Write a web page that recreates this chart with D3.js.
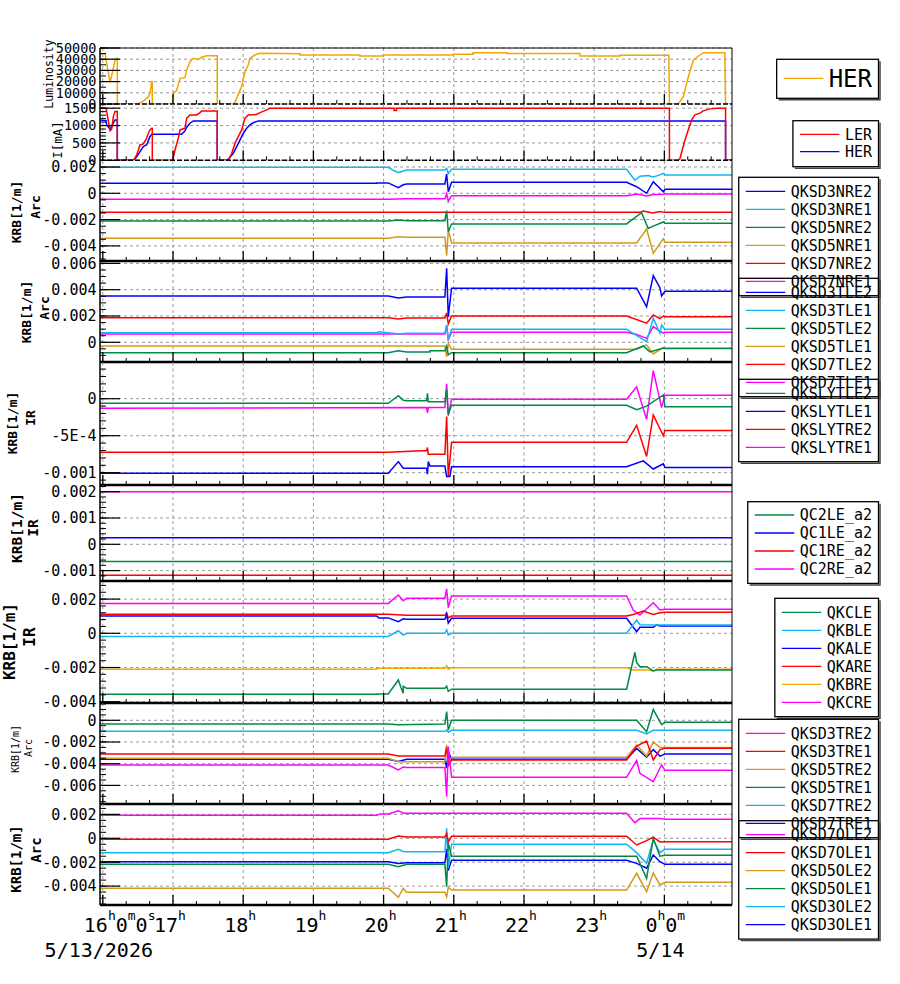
<!DOCTYPE html>
<html>
<head>
<meta charset="utf-8">
<script src="https://cdn.jsdelivr.net/npm/d3@7"></script>
<style>
  body { margin: 0; background: #fff; }
  text { font-family: "DejaVu Sans Mono", monospace; fill: #000; }
</style>
</head>
<body>
<div id="chart"></div>
<script>
// all times are minutes after 16:00 on 5/13/2026

// --- colours
const BLUE = "#0000ff", RED = "#ff0000", MAG = "#ff00ff", GRN = "#008a45",
      CYAN = "#12b6f0", GOLD = "#d29a1c", ORNG = "#f2a600";

// --- time axis
const hourLabels = ["16h0m0s", "17h", "18h", "19h", "20h", "21h", "22h", "23h", "0h0m"];
const dateLabels = [[0, "5/13/2026"], [480, "5/14"]];
const timeDomain = [-2.4, 537.8];

// --- luminosity
const lumHER = [[-2.4,44600],[2.0,45000],[3.3,36300],[6.2,19400],[8.4,28800],[10.4,38700],[11.9,40800],[12.4,40800],[12.4,0],
  [30.4,0],[34.6,2700],[38.9,6300],[40.3,9500],[41.8,19900],[42.3,19900],[42.3,0],
  [59.8,0],[60.3,9500],[63.1,12000],[66.0,22900],[70.3,23500],[71.7,30400],[74.5,37800],[77.4,40800],[81.6,39800],[84.5,41700],[88.8,43100],[97.8,43000],[97.8,0],
  [111.5,0],[113.0,1600],[115.8,8600],[118.6,15500],[121.5,28800],[124.3,34800],[125.7,40800],[130.0,43750],[134.3,45300],[168.5,44900],
  [168.5,43750],[219.8,43750],[219.8,42900],[239.6,42900],[239.6,43750],[299.4,43750],[299.4,44500],[316.5,44500],[316.5,45800],
  [345.5,45800],[345.5,45000],[407.9,45000],[407.9,42900],[442.1,42900],[442.1,43500],[483.8,43500],[484.3,0],
  [491.9,0],[496.2,6500],[500.5,24400],[504.8,39300],[510.4,43750],[513.3,45800],[531.7,45800],[532.3,0],[537.8,0]];
const lumTicks = [0, 10000, 20000, 30000, 40000, 50000];

// --- beam currents
const curLER = [[-2.4,1500],[2.8,1500],[6.2,854],[7.6,900],[9.0,1258],[10.4,1402],[12.4,1402],[12.4,0],
  [26.3,0],[29.0,153],[31.8,441],[34.6,470],[37.5,635],[38.9,779],[40.3,874],[41.8,923],[42.3,923],[42.3,0],
  [59.8,0],[61.7,297],[64.5,635],[66.0,874],[70.3,923],[71.7,1212],[74.5,1307],[80.3,1307],[83.1,1373],[84.5,1422],[97.8,1422],[97.8,0],
  [107.3,0],[110.2,200],[113.0,490],[115.8,683],[118.7,874],[121.5,1212],[124.4,1307],[131.5,1320],[134.4,1373],[140.1,1451],[142.9,1500],
  [249.0,1500],[249.0,1430],[251.0,1430],[251.0,1500],[484.3,1500],[484.3,0],
  [491.9,0],[493.3,50],[497.6,586],[500.4,874],[503.3,1163],[506.1,1307],[510.4,1356],[513.2,1422],[518.9,1480],[525.0,1500],[532.3,1500],[532.3,0],[537.8,0]];
const curHER = [[-2.4,1163],[2.8,1140],[3.3,1018],[6.2,894],[9.0,1067],[10.4,1163],[12.4,1163],[12.4,0],
  [26.3,0],[29.0,104],[31.8,248],[34.6,392],[37.5,450],[40.3,681],[41.8,750],[67.4,750],[70.3,850],[71.7,952],[74.5,1067],[77.4,1134],[97.8,1134],[97.8,0],
  [105.9,0],[107.3,30],[111.5,202],[114.4,392],[117.3,586],[120.1,779],[123.0,923],[125.8,1018],[128.6,1080],[132.9,1134],
  [532.3,1134],[532.3,0],[537.8,0]];
const curTicks = [0, 500, 1000, 1500];

// --- Arc, QKSD*NRE
const QKSD3NRE2 = [[-2.4,0.00076],[234,0.00076],[234,0.00079],[244,0.00079],[252.6,0.00043],[256.8,0.00065],[259.7,0.00071],[292.4,0.00071],[293.9,0.00147],[295.3,0.00012],[298.1,0.00084],[447.7,0.00084],[456.3,0.0005],[464.8,0.0],[470.5,0.00088],[474.8,0.0005],[479.1,0.00012],[480.5,0.0003],[537.8,0.0003]];
const QKSD3NRE1 = [[-2.4,0.00198],[244,0.00198],[248.3,0.00175],[252.6,0.00157],[256.8,0.0017],[259.7,0.00177],[292.4,0.00177],[293.9,0.0019],[295.3,0.0015],[298.1,0.00183],[447.7,0.00183],[454.8,0.001],[459.1,0.0013],[466.2,0.00135],[470.5,0.00125],[476.2,0.0014],[479.1,0.00152],[480.5,0.00139],[537.8,0.00139]];
const QKSD5NRE2 = [[-2.4,-0.00211],[244,-0.00211],[252.6,-0.00203],[259.7,-0.00208],[292.4,-0.00208],[293.9,-0.00132],[295.3,-0.00292],[298.1,-0.00233],[447.7,-0.00233],[460.5,-0.00148],[466.2,-0.00268],[470.5,-0.0025],[479.1,-0.00218],[480.5,-0.00228],[537.8,-0.00228]];
const QKSD5NRE1 = [[-2.4,-0.00342],[244,-0.00342],[252.6,-0.0033],[259.7,-0.00335],[292.4,-0.00335],[293.9,-0.00474],[295.3,-0.0028],[298.1,-0.00378],[456.3,-0.00378],[464.8,-0.00272],[470.5,-0.00456],[479.1,-0.00345],[480.5,-0.00373],[537.8,-0.00373]];
const QKSD7NRE2 = [[-2.4,-0.00145],[459,-0.00145],[462,-0.00135],[470,-0.0015],[476,-0.00138],[480.5,-0.00145],[537.8,-0.00145]];
const QKSD7NRE1 = [[-2.4,-0.00046],[244,-0.00046],[259.7,-0.00042],[292.4,-0.00042],[293.9,-0.00002],[295.3,-0.00062],[298.1,-0.00018],[447.7,-0.00018],[456.3,-0.00005],[464.8,-0.0002],[470.5,-0.0001],[479.1,-0.00008],[480.5,-0.00005],[537.8,-0.00005]];
const arc1Ticks = [-0.004, -0.002, 0, 0.002];

// --- Arc, QKSD*TLE
const QKSD3TLE2 = [[-2.4,0.00352],[244,0.00352],[252.6,0.00337],[259.7,0.00345],[292.4,0.00345],[293.9,0.00563],[295.3,0.00195],[298.1,0.00411],[456.3,0.00411],[464.8,0.0027],[470.5,0.00507],[476.2,0.00415],[477.6,0.00352],[480.5,0.00388],[537.8,0.00388]];
const QKSD3TLE1 = [[-2.4,0.00073],[234,0.00073],[236,0.0008],[244,0.00073],[252.6,0.00063],[259.7,0.00068],[292.4,0.00068],[293.9,0.0012],[295.3,0.0002],[298.1,0.00099],[447.7,0.00099],[464.8,0.00005],[470.5,0.00183],[476.2,0.00068],[477.6,0.0013],[480.5,0.00099],[537.8,0.00099]];
const QKSD5TLE2 = [[-2.4,-0.00079],[244,-0.00079],[252.6,-0.00065],[259.7,-0.00073],[279.6,-0.00073],[279.6,-0.00065],[292.4,-0.00065],[293.9,-0.0003],[295.3,-0.00095],[298.1,-0.00079],[447.7,-0.00079],[462,-0.00028],[467.7,-0.00073],[479.1,-0.00043],[480.5,-0.00048],[537.8,-0.00048]];
const QKSD5TLE1 = [[-2.4,-0.00028],[292.4,-0.00028],[293.9,-0.0011],[295.3,-0.0001],[298.1,-0.00053],[456.3,-0.00053],[464.8,-0.0002],[470.5,-0.00089],[479.1,-0.0004],[480.5,-0.00046],[537.8,-0.00046]];
const QKSD7TLE2 = [[-2.4,0.00187],[244,0.00187],[252.6,0.00178],[259.7,0.00185],[292.4,0.00185],[293.9,0.00223],[295.3,0.0014],[298.1,0.002],[447.7,0.002],[464.8,0.00145],[470.5,0.00208],[476.2,0.0018],[479.1,0.002],[480.5,0.00195],[537.8,0.00195]];
const QKSD7TLE1 = [[-2.4,0.00063],[292.4,0.00063],[293.9,0.0013],[295.3,0.0002],[298.1,0.00076],[447.7,0.00076],[456.3,0.0006],[464.8,0.0003],[470.5,0.00119],[476.2,0.00085],[479.1,0.0007],[480.5,0.00076],[537.8,0.00076]];
const arc2Ticks = [0, 0.002, 0.004, 0.006];

// --- IR, QKSLY*
const QKSLYTLE2 = [[-2.4,-0.000062],[244,-0.000062],[252.6,0.00004],[256.8,-0.00002],[259.7,-0.000027],[276.8,-0.000027],[277.5,0.000073],[278.2,-0.00004],[292.4,-0.00004],[293.9,0.00012],[295.3,-0.00021],[298.1,-0.000089],[447.7,-0.000089],[456.3,-0.00015],[464.8,-0.0001],[479.1,0.00005],[480.5,-0.000108],[537.8,-0.000108]];
const QKSLYTLE1 = [[-2.4,-0.001008],[244,-0.001008],[252.6,-0.00085],[256.8,-0.00094],[276.8,-0.00094],[277.5,-0.00102],[278.2,-0.00085],[279.6,-0.00091],[292.4,-0.00091],[293.9,-0.00105],[296.7,-0.00105],[298.1,-0.00092],[447.7,-0.00092],[462,-0.00084],[470.5,-0.00095],[479.1,-0.00088],[480.5,-0.00093],[537.8,-0.00093]];
const QKSLYTRE2 = [[-2.4,-0.000724],[244,-0.000724],[276.8,-0.0007],[277.5,-0.00066],[278.2,-0.00075],[292.4,-0.00075],[293.9,-0.00024],[295.3,-0.00105],[298.1,-0.00059],[447.7,-0.00059],[456.3,-0.00036],[464.8,-0.00078],[470.5,-0.00022],[479.1,-0.0005],[480.5,-0.00043],[537.8,-0.00043]];
const QKSLYTRE1 = [[-2.4,-0.00013],[276.8,-0.00012],[277.5,-0.00019],[278.2,-0.00012],[292.4,-0.00012],[293.9,0.0002],[295.3,-0.00023],[298.1,-0.000008],[447.7,-0.000008],[456.3,0.00016],[464.8,-0.00028],[470.5,0.00038],[477.6,-0.00012],[480.5,0.000046],[537.8,0.000046]];
const ir1Ticks = [-0.001, -0.0005, 0];
const ir1TickLabels = ["-0.001", "-5E-4", "0"];

// --- IR, QC*_a2
const QC2LE_a2 = [[-2.4,-0.00065],[537.8,-0.00065]];
const QC1LE_a2 = [[-2.4,0.00025],[537.8,0.00025]];
const QC1RE_a2 = [[-2.4,-0.00118],[537.8,-0.00118]];
const QC2RE_a2 = [[-2.4,0.002],[537.8,0.002]];
const ir2Ticks = [-0.001, 0, 0.001, 0.002];

// --- IR, QK*
const QKCLE = [[-2.4,-0.00357],[234,-0.00357],[234,-0.00355],[244,-0.00355],[252.6,-0.00273],[255,-0.0032],[256.8,-0.0035],[256.8,-0.0031],[259.7,-0.00322],[292.4,-0.00322],[293.9,-0.0031],[295.3,-0.0034],[298.1,-0.00327],[447.7,-0.00327],[454.8,-0.00111],[456.3,-0.0017],[459.1,-0.00195],[464.8,-0.00195],[470.5,-0.0022],[473.4,-0.00215],[537.8,-0.00215]];
const QKBLE = [[-2.4,-0.00018],[244,-0.00018],[252.6,0.00015],[256.8,-0.0001],[259.7,0],[292.4,0],[293.9,0.0002],[295.3,-0.0001],[298.1,0],[447.7,0],[456.3,0.00078],[459.1,0.0005],[476.2,0.00049],[537.8,0.00049]];
const QKALE = [[-2.4,0.00101],[234,0.00101],[236,0.0009],[244,0.0009],[252.6,0.00068],[256.8,0.00085],[259.7,0.00082],[292.4,0.00082],[293.9,0.0011],[295.3,0.0006],[298.1,0.00088],[447.7,0.00088],[456.3,0.00009],[459.1,0.00035],[470.5,0.00035],[473.4,0.0005],[476.2,0.00043],[537.8,0.00043]];
const QKARE = [[-2.4,0.00111],[244,0.00111],[259.7,0.00105],[292.4,0.00105],[293.9,0.0012],[295.3,0.0009],[298.1,0.00101],[447.7,0.00101],[453.4,0.0011],[462,0.0013],[470.5,0.0011],[476.2,0.0012],[480.5,0.00123],[537.8,0.00123]];
const QKBRE = [[-2.4,-0.0021],[234,-0.0021],[234,-0.00205],[292.4,-0.00205],[293.9,-0.0019],[295.3,-0.0021],[298.1,-0.00201],[447.7,-0.00201],[453.4,-0.00215],[464.8,-0.00215],[470.5,-0.0022],[473.4,-0.0021],[537.8,-0.0021]];
const QKCRE = [[-2.4,0.00175],[244,0.00175],[252.6,0.00224],[256.8,0.0019],[259.7,0.00205],[292.4,0.00205],[293.9,0.0026],[295.3,0.0015],[298.1,0.00218],[447.7,0.00218],[453.4,0.00136],[459.1,0.00107],[470.5,0.00179],[476.2,0.00136],[480.5,0.0014],[537.8,0.0014]];
const ir3Ticks = [-0.004, -0.002, 0, 0.002];

// --- Arc, QKSD*TRE
const QKSD3TRE2 = [[-2.4,-0.00412],[244,-0.00412],[252.6,-0.00458],[256.8,-0.0043],[259.7,-0.00435],[292.4,-0.00435],[293.9,-0.00704],[295.3,-0.00243],[298.1,-0.00525],[447.7,-0.00525],[456.3,-0.0037],[459.1,-0.00489],[470.5,-0.00566],[477.6,-0.00412],[480.5,-0.00461],[537.8,-0.00461]];
const QKSD3TRE1 = [[-2.4,-0.00311],[244,-0.00311],[252.6,-0.00329],[292.4,-0.00329],[293.9,-0.0025],[295.3,-0.0042],[298.1,-0.00366],[447.7,-0.00366],[456.3,-0.00237],[464.8,-0.00191],[470.5,-0.00366],[476.2,-0.0027],[480.5,-0.00258],[537.8,-0.00258]];
const QKSD5TRE2 = [[-2.4,-0.0035],[244,-0.0035],[252.6,-0.00382],[292.4,-0.00382],[293.9,-0.00225],[295.3,-0.0038],[298.1,-0.00341],[447.7,-0.00341],[456.3,-0.0023],[464.8,-0.0033],[470.5,-0.002],[476.2,-0.0025],[480.5,-0.0025],[537.8,-0.0025]];
const QKSD5TRE1 = [[-2.4,-0.00034],[244,-0.00034],[252.6,-0.0004],[292.4,-0.00034],[293.9,0.0008],[295.3,-0.0009],[298.1,0],[456.3,0],[464.8,-0.00105],[470.5,0.001],[477.6,-0.0004],[480.5,-0.00018],[537.8,-0.00018]];
const QKSD7TRE2 = [[-2.4,-0.00101],[292.4,-0.00101],[293.9,-0.0009],[295.3,-0.0011],[298.1,-0.00092],[456.3,-0.00092],[464.8,-0.00126],[470.5,-0.00092],[537.8,-0.00092]];
const QKSD7TRE1 = [[-2.4,-0.0036],[244,-0.0036],[252.6,-0.0038],[259.7,-0.0036],[292.4,-0.0036],[293.9,-0.0044],[295.3,-0.0029],[298.1,-0.0036],[447.7,-0.0036],[456.3,-0.0026],[464.8,-0.0034],[470.5,-0.0027],[476.2,-0.0033],[480.5,-0.00311],[537.8,-0.00311]];
const arc3Ticks = [-0.006, -0.004, -0.002, 0];

// --- Arc, QKSD*OLE
const QKSD7OLE2 = [[-2.4,0.00192],[234,0.00192],[236.9,0.00203],[244,0.00203],[252.6,0.00231],[256.8,0.0021],[447.7,0.00209],[454.8,0.0013],[459.1,0.00165],[476.2,0.00165],[480.5,0.00159],[537.8,0.00159]];
const QKSD7OLE1 = [[-2.4,-0.00008],[244,-0.00008],[252.6,0.00019],[259.7,0.0001],[292.4,0.0001],[293.9,0.0004],[295.3,-0.0003],[298.1,0.00017],[447.7,0.00017],[456.3,-0.00056],[464.8,-0.0002],[470.5,0.0001],[476.2,-0.0003],[480.5,-0.00028],[537.8,-0.00028]];
const QKSD5OLE2 = [[-2.4,-0.00418],[244,-0.00418],[252.6,-0.00494],[256.8,-0.00418],[259.7,-0.00452],[292.4,-0.00452],[293.9,-0.0049],[295.3,-0.0041],[298.1,-0.00433],[447.7,-0.00433],[456.3,-0.00293],[464.8,-0.00447],[470.5,-0.0029],[476.2,-0.0039],[480.5,-0.00368],[537.8,-0.00368]];
const QKSD5OLE1 = [[-2.4,-0.00218],[244,-0.00218],[252.6,-0.00237],[259.7,-0.00218],[292.4,-0.00218],[293.9,-0.00405],[295.3,-0.0004],[298.1,-0.00151],[447.7,-0.00151],[456.3,-0.0015],[464.8,-0.00335],[470.5,0],[476.2,-0.0015],[480.5,-0.00142],[537.8,-0.00142]];
const QKSD3OLE2 = [[-2.4,-0.0012],[244,-0.0012],[252.6,-0.00092],[256.8,-0.0011],[259.7,-0.00112],[292.4,-0.00112],[293.9,0.00084],[295.3,-0.0025],[298.1,-0.0005],[447.7,-0.0005],[456.3,-0.0012],[464.8,-0.00209],[470.5,-0.00014],[476.2,-0.0012],[480.5,-0.00092],[537.8,-0.00092]];
const QKSD3OLE1 = [[-2.4,-0.00196],[244,-0.00196],[252.6,-0.0021],[259.7,-0.00205],[292.4,-0.00205],[293.9,-0.0009],[295.3,-0.0027],[298.1,-0.00184],[447.7,-0.00184],[456.3,-0.0021],[464.8,-0.00251],[470.5,-0.0014],[476.2,-0.00196],[480.5,-0.00218],[537.8,-0.00218]];
const arc4Ticks = [-0.004, -0.002, 0, 0.002];

// --- panels (layout)
const panels = [
  { top: 48, bottom: 104, domain: [0, 50000], ticks: lumTicks, minor: 5000, font: 13.5, dashBase: true,
    series: [["HER", lumHER, ORNG]],
    title: [["Luminosity", 48.5, 74, 11.5, "normal"]],
    legend: { top: 59.3, font: 24, first: 19, row: 18, pad: 20 } },
  { top: 104, bottom: 160.3, domain: [0, 1620], ticks: curTicks, minor: 100, font: 13.5, dashBase: true,
    series: [["LER", curLER, RED], ["HER", curHER, BLUE]],
    title: [["I[mA]", 57, 140, 12.5, "normal"]],
    legend: { top: 120.7, font: 15, first: 13.6, row: 17.4, pad: 15 } },
  { top: 161, bottom: 261, domain: [-0.005148, 0.002456], ticks: arc1Ticks, minor: 0.0005, font: 15,
    series: [["QKSD3NRE2", QKSD3NRE2, BLUE], ["QKSD3NRE1", QKSD3NRE1, CYAN], ["QKSD5NRE2", QKSD5NRE2, GRN],
             ["QKSD5NRE1", QKSD5NRE1, GOLD], ["QKSD7NRE2", QKSD7NRE2, RED], ["QKSD7NRE1", QKSD7NRE1, MAG]],
    title: [["KRB[1/m]", 16, 212, 13, "bold"], ["Arc", 35.5, 207, 13, "bold"]],
    legend: { top: 177.3, font: 15, first: 14, row: 18, pad: 14.4 } },
  { top: 262, bottom: 362, domain: [-0.001498, 0.006106], ticks: arc2Ticks, minor: 0.0005, font: 15,
    series: [["QKSD3TLE2", QKSD3TLE2, BLUE], ["QKSD3TLE1", QKSD3TLE1, CYAN], ["QKSD5TLE2", QKSD5TLE2, GRN],
             ["QKSD5TLE1", QKSD5TLE1, GOLD], ["QKSD7TLE2", QKSD7TLE2, RED], ["QKSD7TLE1", QKSD7TLE1, MAG]],
    title: [["KRB[1/m]", 26, 312, 13, "bold"], ["Arc", 44, 308, 13, "bold"]],
    legend: { top: 278.3, font: 15, first: 14, row: 18, pad: 14.4 } },
  { top: 362.5, bottom: 485, domain: [-0.001166, 0.000489], ticks: ir1Ticks, tickLabels: ir1TickLabels, minor: 0.0001, font: 15,
    series: [["QKSLYTLE2", QKSLYTLE2, GRN], ["QKSLYTLE1", QKSLYTLE1, BLUE], ["QKSLYTRE2", QKSLYTRE2, RED], ["QKSLYTRE1", QKSLYTRE1, MAG]],
    title: [["KRB[1/m]", 12, 423, 13, "bold"], ["IR", 30, 418, 13, "bold"]],
    legend: { top: 379.3, font: 15, first: 14, row: 18, pad: 14.4 } },
  { top: 485, bottom: 581, domain: [-0.001395, 0.002255], ticks: ir2Ticks, minor: 0.0002, font: 15,
    series: [["QC2LE_a2", QC2LE_a2, GRN], ["QC1LE_a2", QC1LE_a2, BLUE], ["QC1RE_a2", QC1RE_a2, RED], ["QC2RE_a2", QC2RE_a2, MAG]],
    title: [["KRB[1/m]", 17, 528, 14.5, "bold"], ["IR", 33, 528, 14.5, "bold"]],
    legend: { top: 501.7, font: 15, first: 13.3, row: 18, pad: 14.4 } },
  { top: 582, bottom: 703, domain: [-0.004076, 0.003], ticks: ir3Ticks, minor: 0.0004, font: 15,
    series: [["QKCLE", QKCLE, GRN], ["QKBLE", QKBLE, CYAN], ["QKALE", QKALE, BLUE], ["QKARE", QKARE, RED], ["QKBRE", QKBRE, ORNG], ["QKCRE", QKCRE, MAG]],
    title: [["KRB[1/m]", 9, 641.5, 16, "bold"], ["IR", 29, 637, 16, "bold"]],
    legend: { top: 598.3, font: 15, first: 14, row: 18, pad: 14.4 } },
  { top: 703, bottom: 804, domain: [-0.007714, 0.001594], ticks: arc3Ticks, minor: 0.0005, font: 15,
    series: [["QKSD3TRE2", QKSD3TRE2, MAG], ["QKSD3TRE1", QKSD3TRE1, RED], ["QKSD5TRE2", QKSD5TRE2, GOLD],
             ["QKSD5TRE1", QKSD5TRE1, GRN], ["QKSD7TRE2", QKSD7TRE2, CYAN], ["QKSD7TRE1", QKSD7TRE1, BLUE]],
    title: [["KRB[1/m]", 15, 749, 10, "normal"], ["Arc", 28, 748, 10, "normal"]],
    legend: { top: 719.3, font: 15, first: 14, row: 18, pad: 14.4 } },
  { top: 804, bottom: 905, domain: [-0.005582, 0.00287], ticks: arc4Ticks, minor: 0.0005, font: 15,
    series: [["QKSD7OLE2", QKSD7OLE2, MAG], ["QKSD7OLE1", QKSD7OLE1, RED], ["QKSD5OLE2", QKSD5OLE2, GOLD],
             ["QKSD5OLE1", QKSD5OLE1, GRN], ["QKSD3OLE2", QKSD3OLE2, CYAN], ["QKSD3OLE1", QKSD3OLE1, BLUE]],
    title: [["KRB[1/m]", 16, 859, 14, "bold"], ["Arc", 35.5, 850, 14, "bold"]],
    legend: { top: 820.7, font: 15, first: 14, row: 18, pad: 14.4 } }
];

const X0 = 100, X1 = 732;
const T0 = new Date(2026, 4, 13, 16, 0, 0).getTime();
const toDate = m => new Date(T0 + m * 60000);
const x = d3.scaleTime().domain(timeDomain.map(toDate)).range([X0, X1]);

const svg = d3.select("#chart").append("svg")
  .attr("width", 900)
  .attr("height", 984);

const hourMarks = d3.range(0, timeDomain[1], 60);
const minorMarks = d3.range(0, timeDomain[1], 20).filter(m => m % 60 !== 0);

panels.forEach((p, i) => {
  const y = d3.scaleLinear().domain(p.domain).range([p.bottom, p.top]);
  const g = svg.append("g");

  svg.append("clipPath").attr("id", "clip" + i)
    .append("rect").attr("x", X0).attr("y", p.top).attr("width", X1 - X0).attr("height", p.bottom - p.top);

  // vertical grid
  g.selectAll(".vg").data(hourMarks).enter().append("line")
    .attr("x1", d => x(toDate(d))).attr("x2", d => x(toDate(d)))
    .attr("y1", p.top).attr("y2", p.bottom)
    .attr("stroke", "#999").attr("stroke-dasharray", "3,3");

  // horizontal grid
  g.selectAll(".hg").data(p.ticks).enter().append("line")
    .attr("x1", X0).attr("x2", X1)
    .attr("y1", d => y(d)).attr("y2", d => y(d))
    .attr("stroke", "#999").attr("stroke-dasharray", "3,3");

  // data
  const line = d3.line().x(d => x(toDate(d[0]))).y(d => y(d[1]));
  const lg = g.append("g").attr("clip-path", `url(#clip${i})`);
  p.series.slice().reverse().forEach(s => {
    lg.append("path").datum(s[1])
      .attr("fill", "none").attr("stroke", s[2]).attr("stroke-width", 1.5)
      .attr("d", line);
  });

  // y ticks
  const ext = d3.extent(p.domain);
  const minors = d3.range(Math.ceil(ext[0] / p.minor - 1e-6), Math.floor(ext[1] / p.minor + 1e-6) + 1).map(k => k * p.minor);
  g.selectAll(".ymi").data(minors).enter().append("line")
    .attr("x1", X0).attr("x2", X0 + 6)
    .attr("y1", d => y(d)).attr("y2", d => y(d))
    .attr("stroke", "#000");
  g.selectAll(".yma").data(p.ticks).enter().append("line")
    .attr("x1", X0).attr("x2", X0 + 20)
    .attr("y1", d => y(d)).attr("y2", d => y(d))
    .attr("stroke", "#000").attr("stroke-width", 1.2);
  g.selectAll(".yl").data(p.ticks).enter().append("text")
    .attr("x", 96.5).attr("y", d => y(d)).attr("dy", "0.36em")
    .attr("text-anchor", "end").style("font-size", p.font + "px")
    .text((d, k) => p.tickLabels ? p.tickLabels[k] : String(d));

  // x ticks
  g.selectAll(".xma").data(hourMarks).enter().append("line")
    .attr("x1", d => x(toDate(d))).attr("x2", d => x(toDate(d)))
    .attr("y1", p.bottom).attr("y2", p.bottom - 10)
    .attr("stroke", "#000").attr("stroke-width", 1.3);
  g.selectAll(".xmi").data(minorMarks).enter().append("line")
    .attr("x1", d => x(toDate(d))).attr("x2", d => x(toDate(d)))
    .attr("y1", p.bottom).attr("y2", p.bottom - 4)
    .attr("stroke", "#000");

  // baseline
  g.append("line").attr("x1", X0).attr("x2", X1).attr("y1", p.bottom).attr("y2", p.bottom)
    .attr("stroke", "#000")
    .attr("stroke-width", p.dashBase ? 1.6 : 2.6)
    .attr("stroke-dasharray", p.dashBase ? "5,2" : null);

  // title
  p.title.forEach(t => {
    g.append("text")
      .attr("transform", `translate(${t[1]},${t[2]}) rotate(-90)`)
      .attr("text-anchor", "middle").attr("dominant-baseline", "central")
      .style("font-size", t[3] + "px").style("font-weight", t[4])
      .text(t[0]);
  });

  drawLegend(p.series, p.legend);
});

// frame
svg.append("line").attr("x1", X0).attr("x2", X1).attr("y1", 48).attr("y2", 48).attr("stroke", "#000");
svg.append("line").attr("x1", X1).attr("x2", X1).attr("y1", 48).attr("y2", 905).attr("stroke", "#000");
svg.append("line").attr("x1", X0).attr("x2", X0).attr("y1", 48).attr("y2", 905).attr("stroke", "#000").attr("stroke-width", 1.5);

// x labels
hourLabels.forEach((lab, k) => {
  const t = svg.append("text")
    .attr("x", x(toDate(k * 60)) - 19).attr("y", 932)
    .style("font-size", "20px");
  const parts = lab.match(/\d+[a-z]/g);
  let up = false;
  parts.forEach(pt => {
    t.append("tspan").attr("dy", up ? 12 : 0).text(pt.slice(0, -1));
    t.append("tspan").attr("dy", -12).style("font-size", "13px").text(pt.slice(-1));
    up = true;
  });
});
dateLabels.forEach(d => {
  svg.append("text")
    .attr("x", x(toDate(d[0])) - 4).attr("y", 957)
    .attr("text-anchor", "middle").style("font-size", "20px")
    .text(d[1]);
});

function drawLegend(series, o) {
  const right = 878.5;
  const g = svg.append("g");
  const texts = series.map((s, k) => g.append("text")
    .attr("y", o.top + o.first + k * o.row).attr("dy", "0.36em")
    .style("font-size", o.font + "px").text(s[0]));
  const maxW = d3.max(texts, t => t.node().getComputedTextLength());
  const left = right - 6.5 - maxW - 52;
  const h = o.first + (series.length - 1) * o.row + o.pad;
  texts.forEach(t => t.attr("x", left + 52));
  series.forEach((s, k) => {
    g.append("line")
      .attr("x1", left + 7).attr("x2", left + 46.5)
      .attr("y1", o.top + o.first + k * o.row).attr("y2", o.top + o.first + k * o.row)
      .attr("stroke", s[2]).attr("stroke-width", 1.3);
  });
  g.append("rect").attr("x", left).attr("y", o.top).attr("width", right - left).attr("height", h)
    .attr("fill", "none").attr("stroke", "#000").attr("stroke-width", 1.3);
  g.append("path")
    .attr("d", `M${right + 1.5},${o.top + 2} V${o.top + h + 1.5} H${left + 2}`)
    .attr("fill", "none").attr("stroke", "#444").attr("stroke-width", 1.5);
}
</script>
</body>
</html>
